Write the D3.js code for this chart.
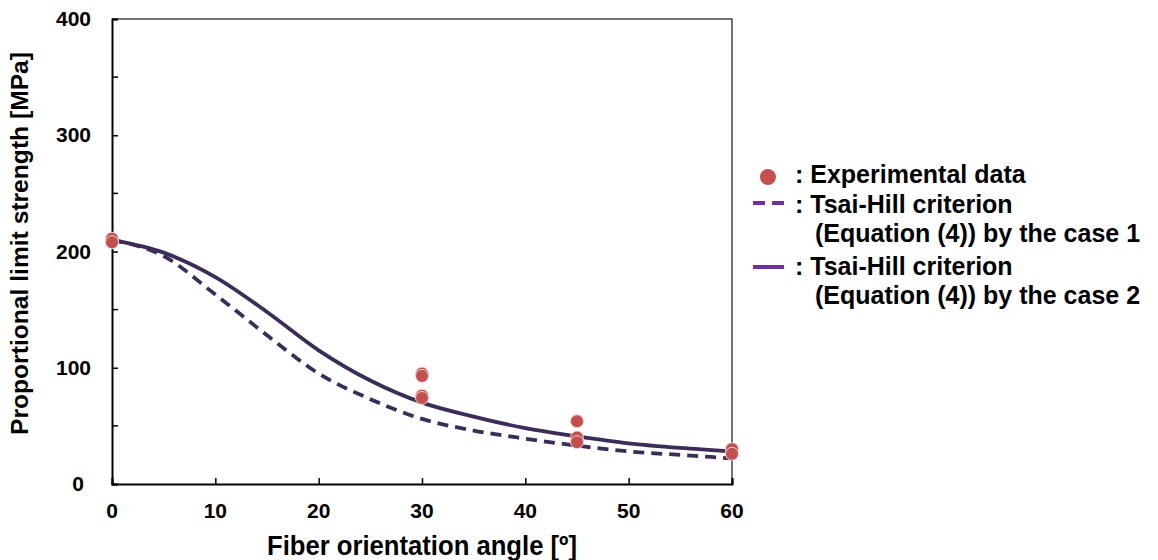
<!DOCTYPE html>
<html>
<head>
<meta charset="utf-8">
<script src="https://cdn.jsdelivr.net/npm/d3@7"></script>
<style>
  body { margin: 0; background: #fff; }
  svg { display: block; font-family: "Liberation Sans", Arial, sans-serif; font-weight: bold; }
</style>
</head>
<body>
<div id="chart"></div>
<script>
// experimental points (angle, strength)
const expAngles = [0, 0, 30, 30, 30, 30, 45, 45, 45, 60, 60];
const expValues = [211, 208, 95, 93, 76, 74, 54, 40, 36, 30, 26];

// curves
const curveAngles = [0, 5, 10, 15, 20, 25, 30, 35, 40, 45, 50, 55, 60];
const case1Values = [210, 196, 163, 128, 95, 73, 56, 46, 39, 33, 28, 25, 22];
const case2Values = [210, 199, 178, 148, 115, 89, 70, 58, 48, 41, 35, 31, 28];

const xTicks = [0, 10, 20, 30, 40, 50, 60];
const yTicks = [0, 100, 200, 300, 400];
const yMinor = [50, 150, 250, 350];

const legendItems = [
  { type: "dot", lines: [": Experimental data"] },
  { type: "dash", lines: [": Tsai-Hill criterion", "(Equation (4)) by the case 1"] },
  { type: "solid", lines: [": Tsai-Hill criterion", "(Equation (4)) by the case 2"] }
];

const width = 1158, height = 560;
const margin = { top: 19, right: 426, bottom: 76, left: 111 };

const svg = d3.select("#chart").append("svg")
  .attr("width", width)
  .attr("height", height);

const x = d3.scaleLinear().domain([0, 60]).range([margin.left + 1, width - margin.right]);
const y = d3.scaleLinear().domain([0, 400]).range([height - margin.bottom, margin.top]);

const lineColor = "#3b2d57";
const dotColor = "#c3504f";

// frame top + right
svg.append("path")
  .attr("d", `M${x(0)},${y(400)}H${x(60)}V${y(0)}`)
  .attr("fill", "none")
  .attr("stroke", "#444")
  .attr("stroke-width", 1.5);

// y axis
const yAxis = svg.append("g")
  .attr("transform", `translate(${x(0)},0)`)
  .call(d3.axisRight(y).tickValues(yTicks).tickSize(6).tickFormat(""));
yAxis.select(".domain").attr("stroke", "#000").attr("stroke-width", 2);
yAxis.selectAll(".tick line").attr("stroke-width", 1.5);
svg.append("g")
  .selectAll("line")
  .data(yMinor)
  .join("line")
  .attr("x1", x(0)).attr("x2", x(0) + 6)
  .attr("y1", d => y(d)).attr("y2", d => y(d))
  .attr("stroke", "#000").attr("stroke-width", 1.5);

svg.append("g")
  .selectAll("text")
  .data(yTicks)
  .join("text")
  .attr("x", d => d === 0 ? 84 : 91)
  .attr("y", d => y(d) + 7)
  .attr("text-anchor", "end")
  .attr("font-size", 21)
  .attr("fill", "#000")
  .text(d => d);

// x axis
const xAxis = svg.append("g")
  .attr("transform", `translate(0,${y(0)})`)
  .call(d3.axisTop(x).tickValues(xTicks).tickSize(6).tickFormat(""));
xAxis.select(".domain").attr("stroke", "#000").attr("stroke-width", 2);
xAxis.selectAll(".tick line").attr("stroke-width", 1.5);

svg.append("g")
  .selectAll("text")
  .data(xTicks)
  .join("text")
  .attr("x", d => x(d))
  .attr("y", 518)
  .attr("text-anchor", "middle")
  .attr("font-size", 21)
  .attr("fill", "#000")
  .text(d => d);

// axis titles
svg.append("text")
  .attr("x", 267)
  .attr("y", 555)
  .attr("font-size", 27)
  .attr("textLength", 310)
  .attr("lengthAdjust", "spacingAndGlyphs")
  .text("Fiber orientation angle [º]");

svg.append("text")
  .attr("transform", `translate(28,435) rotate(-90)`)
  .attr("font-size", 23)
  .attr("textLength", 383)
  .attr("lengthAdjust", "spacingAndGlyphs")
  .text("Proportional limit strength [MPa]");

// curves
const line = d3.line()
  .x(d => x(d[0]))
  .y(d => y(d[1]))
  .curve(d3.curveMonotoneX);

svg.append("path")
  .datum(curveAngles.map((a, i) => [a, case1Values[i]]))
  .attr("d", line)
  .attr("fill", "none")
  .attr("stroke", lineColor)
  .attr("stroke-width", 3.8)
  .attr("stroke-dasharray", "11,7");

svg.append("path")
  .datum(curveAngles.map((a, i) => [a, case2Values[i]]))
  .attr("d", line)
  .attr("fill", "none")
  .attr("stroke", lineColor)
  .attr("stroke-width", 3.8);

// experimental points
svg.append("g")
  .selectAll("circle")
  .data(expAngles.map((a, i) => [a, expValues[i]]))
  .join("circle")
  .attr("cx", d => x(d[0]))
  .attr("cy", d => y(d[1]))
  .attr("r", 6.5)
  .attr("fill", dotColor)
  .attr("stroke", "#f3d6d6")
  .attr("stroke-width", 1);

// legend
const legendMarkY = [177, 203, 267];
const legendTextY = [[183], [213, 242], [275, 304]];
const lg = svg.append("g");
legendItems.forEach((item, i) => {
  if (item.type === "dot") {
    lg.append("circle").attr("cx", 768).attr("cy", legendMarkY[i]).attr("r", 8).attr("fill", dotColor);
  } else {
    lg.append("line")
      .attr("x1", 753).attr("x2", 784)
      .attr("y1", legendMarkY[i]).attr("y2", legendMarkY[i])
      .attr("stroke", "#7030a0")
      .attr("stroke-width", 4)
      .attr("stroke-dasharray", item.type === "dash" ? "12,7" : null);
  }
  item.lines.forEach((t, j) => {
    lg.append("text")
      .attr("x", j === 0 ? 795 : 815)
      .attr("y", legendTextY[i][j])
      .attr("font-size", 25)
      .text(t);
  });
});
</script>
</body>
</html>
